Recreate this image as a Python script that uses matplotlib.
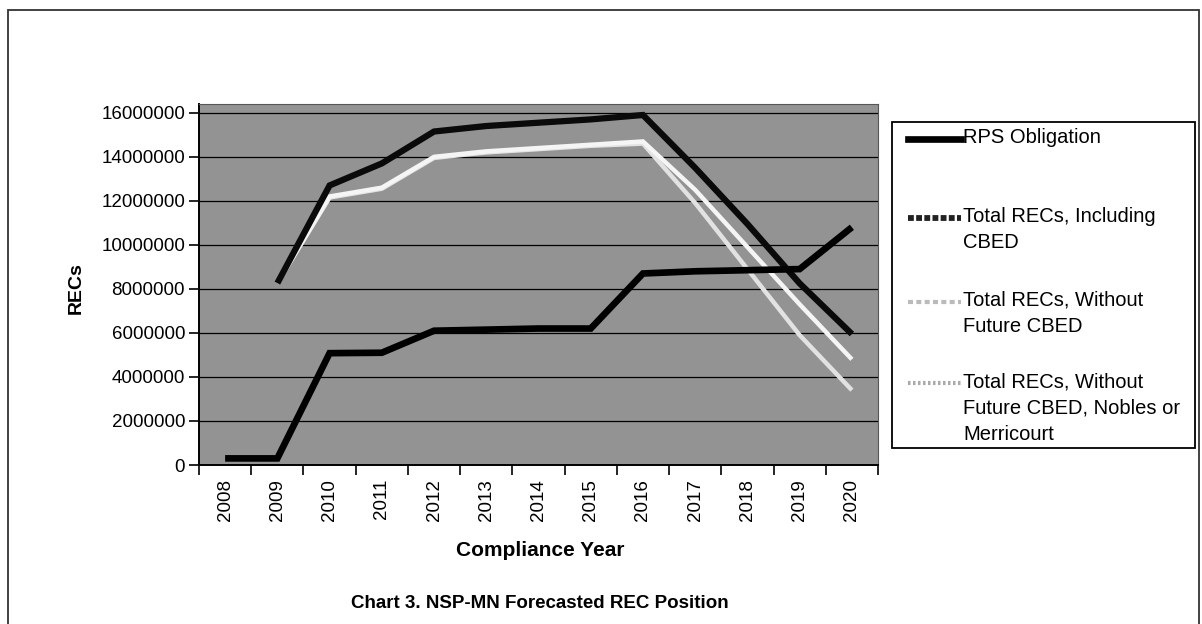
import matplotlib.pyplot as plt
from matplotlib.patches import Rectangle
from matplotlib.lines import Line2D
from matplotlib.ticker import FuncFormatter

# Compliance years and forecast REC position
years = ["2008", "2009", "2010", "2011", "2012", "2013", "2014",
         "2015", "2016", "2017", "2018", "2019", "2020"]

rps_obligation = [300000, 300000, 5080000, 5100000, 6100000, 6150000, 6200000,
                  6200000, 8700000, 8800000, 8850000, 8900000, 10800000]

# these three series start in 2009
total_incl_cbed = [None, 8260000, 12700000, 13700000, 15150000, 15400000, 15550000,
                   15700000, 15900000, 13500000, 10950000, 8250000, 5950000]
total_no_future_cbed = [None, 8260000, 12200000, 12600000, 14000000, 14250000, 14400000,
                        14550000, 14700000, 12500000, 9900000, 7300000, 4800000]
total_no_nobles = [None, 8260000, 12150000, 12550000, 13950000, 14200000, 14350000,
                   14500000, 14600000, 11900000, 8900000, 5900000, 3400000]

labels = ["RPS Obligation",
          "Total RECs, Including\nCBED",
          "Total RECs, Without\nFuture CBED",
          "Total RECs, Without\nFuture CBED, Nobles or\nMerricourt"]

plt.rcParams["font.family"] = ["Liberation Sans", "DejaVu Sans"]

W, H = 1202, 624
fig = plt.figure(figsize=(W / 100, H / 100), dpi=100)

# outer frame of the scanned chart (bottom edge is cut off)
fig.patches.append(Rectangle((8 / W, -10 / H), 1191 / W, H / H,
                             transform=fig.transFigure, fill=False,
                             edgecolor="#333333", linewidth=1.3))

ax = fig.add_axes([199 / W, 1 - 465 / H, 679 / W, 361 / H])
ax.set_facecolor("#939393")

x = list(range(len(years)))


def plot(series, **kw):
    p = [(i, v) for i, v in zip(x, series) if v is not None]
    ax.plot([a for a, _ in p], [b for _, b in p], solid_capstyle="butt",
            solid_joinstyle="miter", **kw)


plot(total_no_nobles, color="#e2e2e2", linewidth=3.2, zorder=3)
plot(total_no_future_cbed, color="#f5f5f5", linewidth=3.2, zorder=4)
plot(total_incl_cbed, color="#0a0a0a", linewidth=4.5, zorder=5)
plot(rps_obligation, color="black", linewidth=4.8, zorder=6)

ax.set_xlim(-0.5, len(years) - 0.5)
ax.set_ylim(0, 16400000)
ax.set_yticks(range(0, 16000001, 2000000))
ax.yaxis.set_major_formatter(FuncFormatter(lambda v, p: f"{int(v)}"))
ax.grid(axis="y", color="black", linewidth=0.9)
ax.set_axisbelow(True)

ax.set_xticks(x)
ax.set_xticklabels(years, rotation=90)
ax.set_xticks([i - 0.5 for i in range(len(years) + 1)], minor=True)
ax.tick_params(axis="x", which="major", length=0, pad=10, labelsize=13.5)
ax.tick_params(axis="x", which="minor", length=7, width=1.2, direction="out")
ax.tick_params(axis="y", length=7, width=1.2, direction="out", labelsize=13.5, pad=3)

for s in ["top", "right"]:
    ax.spines[s].set_color("#555555")
for s in ["left", "bottom"]:
    ax.spines[s].set_linewidth(1.4)

fig.text(76 / W, 1 - 288 / H, "RECs", rotation=90, ha="center", va="center",
         fontsize=14, fontweight="bold")
fig.text(540 / W, 1 - 551 / H, "Compliance Year", ha="center", va="center",
         fontsize=15, fontweight="bold")
fig.text(540 / W, 1 - 604 / H, "Chart 3. NSP-MN Forecasted REC Position",
         ha="center", va="center", fontsize=13.5, fontweight="bold")

# legend box on the right
fig.patches.append(Rectangle((892 / W, 1 - 448 / H), 303 / W, 326 / H,
                             transform=fig.transFigure, fill=False,
                             edgecolor="black", linewidth=1.3))
handles = [
    dict(color="black", linewidth=4.8, linestyle="-"),
    dict(color="#222222", linewidth=4.2, linestyle=(0, (1, 0.4))),
    dict(color="#bbbbbb", linewidth=3, linestyle=(0, (1.2, 0.8))),
    dict(color="#aaaaaa", linewidth=3, linestyle=(0, (0.6, 0.6))),
]
rows = [139, 218, 302, 383]
for h, lab, ry in zip(handles, labels, rows):
    y = 1 - ry / H
    fig.lines.append(Line2D([908 / W, 961 / W], [y, y], transform=fig.transFigure, **h))
    fig.text(963 / W, y + 11 / H, lab, ha="left", va="top", fontsize=14.5,
             linespacing=1.5)

fig.savefig("out.png", dpi=100)
